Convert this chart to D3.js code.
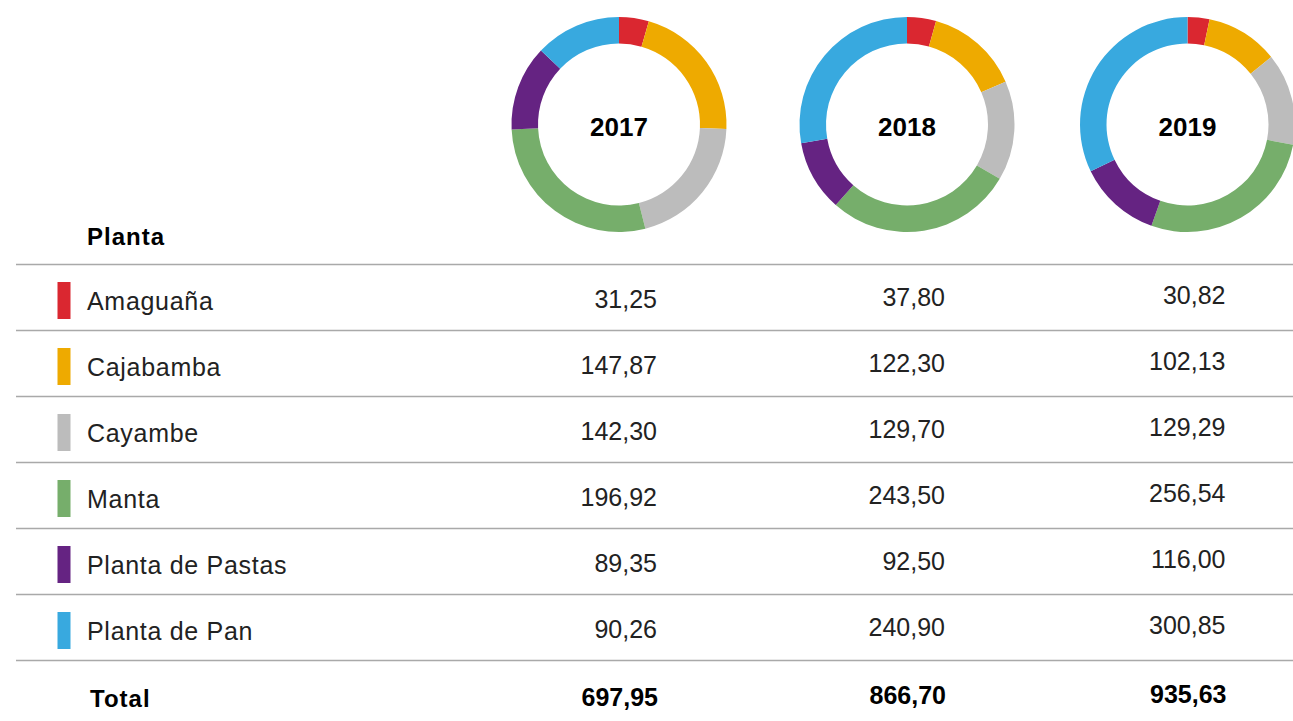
<!DOCTYPE html>
<html><head><meta charset="utf-8">
<script src="https://cdn.jsdelivr.net/npm/d3@7"></script>
<style>
html,body{margin:0;padding:0;background:#fff;}
svg{display:block;}
text{font-family:"Liberation Sans",Arial,Helvetica,sans-serif;}
</style>
</head><body>
<svg id="c" width="1293" height="721"></svg>
<script>
const years = ["2017", "2018", "2019"];
const plants = ["Amaguaña", "Cajabamba", "Cayambe", "Manta", "Planta de Pastas", "Planta de Pan"];
const colors = ["#da2730", "#eeaa00", "#bcbcbc", "#76ae6b", "#652382", "#38a9df"];
const values2017 = [31.25, 147.87, 142.30, 196.92, 89.35, 90.26];
const values2018 = [37.80, 122.30, 129.70, 243.50, 92.50, 240.90];
const values2019 = [30.82, 102.13, 129.29, 256.54, 116.00, 300.85];
const headerLabel = "Planta";
const totalLabel = "Total";

const series = [values2017, values2018, values2019];
const svg = d3.select("#c");
const loc = d3.formatLocale({decimal: ",", thousands: ".", grouping: [3], currency: ["$", ""]});
const fmt = loc.format(".2f");

const xCenter = d3.scaleOrdinal().domain(years).range([619, 907, 1187.5]);
const colShift = d3.scaleOrdinal().domain(years).range([0, -2, -3.5]);
const color = d3.scaleOrdinal().domain(plants).range(colors);
const rows = plants.concat([totalLabel]);
const y = d3.scaleBand().domain(rows).range([264.5, 264.5 + 66 * rows.length]);

// donuts
const pie = d3.pie().sort(null);
const arc = d3.arc().innerRadius(81).outerRadius(107.5);
years.forEach((yr, i) => {
  const g = svg.append("g").attr("transform", `translate(${xCenter(yr)},124.5)`);
  g.selectAll("path").data(pie(series[i])).join("path")
    .attr("d", arc).attr("fill", (d, j) => colors[j]);
  g.append("text").attr("text-anchor", "middle").attr("y", 2.5).attr("dy", "0.36em")
    .attr("font-size", 26).attr("font-weight", "bold").attr("fill", "#000").text(yr);
});

// header
svg.append("text").attr("x", 87).attr("y", 245).attr("font-size", 24)
  .attr("letter-spacing", 1).attr("font-weight", "bold").attr("fill", "#000").text(headerLabel);

// row lines
svg.selectAll("line.row").data(rows).join("line").attr("class", "row")
  .attr("x1", 16).attr("x2", 1293)
  .attr("y1", d => y(d)).attr("y2", d => y(d))
  .attr("stroke", "#a9a9a9").attr("stroke-width", 1.5);

// swatches
svg.selectAll("rect.sw").data(plants).join("rect").attr("class", "sw")
  .attr("x", 57.5).attr("width", 13)
  .attr("y", d => y(d) + y.bandwidth() / 2 + 3 - 18.5).attr("height", 37)
  .attr("fill", d => color(d));

// labels
svg.selectAll("text.lab").data(plants).join("text").attr("class", "lab")
  .attr("x", 87).attr("y", d => y(d) + y.bandwidth() / 2 + 3)
  .attr("dy", "0.36em").attr("font-size", 25).attr("letter-spacing", 0.7)
  .attr("fill", "#222").text(d => d);

svg.append("text").attr("x", 90).attr("y", y(totalLabel) + y.bandwidth() / 2 + 5)
  .attr("dy", "0.36em").attr("font-size", 24).attr("letter-spacing", 1)
  .attr("font-weight", "bold").attr("fill", "#000").text(totalLabel);

// values
years.forEach((yr, i) => {
  const vals = series[i];
  svg.selectAll(`text.v${yr}`).data(vals).join("text").attr("class", `v${yr}`)
    .attr("x", xCenter(yr) + 38).attr("text-anchor", "end")
    .attr("y", (d, j) => y(plants[j]) + y.bandwidth() / 2 + 1 + colShift(yr))
    .attr("dy", "0.36em").attr("font-size", 25).attr("fill", "#222")
    .text(d => fmt(d));
  svg.append("text").attr("x", xCenter(yr) + 39).attr("text-anchor", "end")
    .attr("y", y(totalLabel) + y.bandwidth() / 2 + 3.5 + colShift(yr))
    .attr("dy", "0.36em").attr("font-size", 25).attr("font-weight", "bold").attr("fill", "#000")
    .text(fmt(d3.sum(vals)));
});
</script>
</body></html>
